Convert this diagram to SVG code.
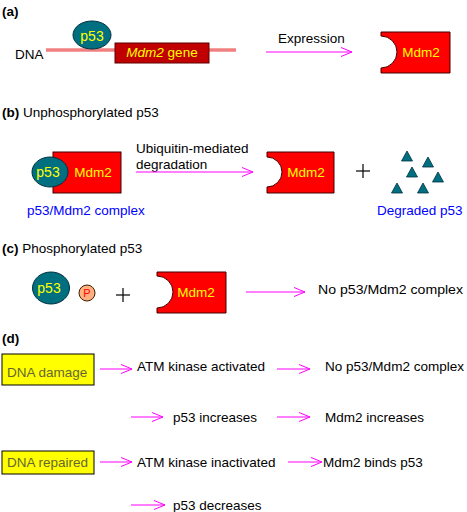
<svg xmlns="http://www.w3.org/2000/svg" width="467" height="512" viewBox="0 0 467 512">
<defs>
<marker id="ah" markerWidth="12" markerHeight="10" refX="11" refY="5" orient="auto" markerUnits="userSpaceOnUse">
<path d="M0,0.5 L11,5 L0,9.5" fill="none" stroke="#ff00ff" stroke-width="1"/>
</marker>
</defs>
<style>
text{font-family:"Liberation Sans",Arial,sans-serif;font-size:13.5px;fill:#000}
.lbl{font-weight:bold}
.yel{fill:#ffff00}
.ctr{text-anchor:middle}
.blue{fill:#0000ff}
.mdm{fill:#ff0000;stroke:#400000;stroke-width:1}
.p53{fill:#007080;stroke:#003040;stroke-width:1}
.tri{fill:#007080;stroke:#003040;stroke-width:0.8}
.arr{stroke:#ff00ff;stroke-width:1;fill:none;marker-end:url(#ah)}
.box{fill:#ffff00;stroke:#000;stroke-width:1}
.boxt{fill:#666633}
.plus{stroke:#000;stroke-width:1.2}
.ptxt{font-size:11px;fill:#ff0000}
</style>

<g id="panel-a">
<text class="lbl" x="2" y="16">(a)</text>
<g id="dna">
<line x1="46" y1="50" x2="236" y2="50" stroke="#f08080" stroke-width="3.5"/>
<text x="15" y="59">DNA</text>
</g>
<g id="mdm2-gene">
<rect x="115" y="43" width="94" height="20" fill="#c00000" stroke="#600000" stroke-width="1"/>
<text x="162" y="57" class="yel ctr"><tspan font-style="italic">Mdm2</tspan> gene</text>
</g>
<g id="p53-a">
<ellipse class="p53" cx="92" cy="35" rx="19" ry="14"/>
<text x="92" y="41" class="yel ctr" style="font-size:14px">p53</text>
</g>
<text x="278" y="43">Expression</text>
<g id="mdm2-a">
<path class="mdm" d="M381,32 H450 V73 H381 V68 A16,16 0 0 0 381,36 Z"/>
<text x="421" y="57" class="yel ctr">Mdm2</text>
</g>
</g>

<g id="panel-b">
<text x="2" y="117"><tspan class="lbl">(b)</tspan> Unphosphorylated p53</text>
<g id="complex">
<rect class="mdm" x="53" y="152" width="68" height="41"/>
<ellipse class="p53" cx="50" cy="172" rx="18" ry="15"/>
<text x="48" y="177" class="yel ctr" style="font-size:14px">p53</text>
<text x="93" y="177" class="yel ctr">Mdm2</text>
<text x="27" y="215" class="blue">p53/Mdm2 complex</text>
</g>
<text x="136" y="153">Ubiquitin-mediated</text>
<text x="136" y="169">degradation</text>
<g id="mdm2-b">
<path class="mdm" d="M267,152 H334 V193 H267 V187 A15,15 0 0 0 267,157 Z"/>
<text x="306" y="177" class="yel ctr">Mdm2</text>
</g>
<g id="plus-b">
<line class="plus" x1="356" y1="171" x2="370" y2="171"/>
<line class="plus" x1="363" y1="164" x2="363" y2="178"/>
</g>
<g id="degraded-p53">
<polygon class="tri" points="407,151 412.5,161 401.5,161"/>
<polygon class="tri" points="428,157 433.5,167 422.5,167"/>
<polygon class="tri" points="412,167 417.5,177 406.5,177"/>
<polygon class="tri" points="438,172 443.5,182 432.5,182"/>
<polygon class="tri" points="397,183 402.5,193 391.5,193"/>
<polygon class="tri" points="423,183 428.5,193 417.5,193"/>
<text x="377" y="215" class="blue">Degraded p53</text>
</g>
</g>

<g id="panel-c">
<text x="2" y="253"><tspan class="lbl">(c)</tspan> Phosphorylated p53</text>
<g id="p53-c">
<ellipse class="p53" cx="51" cy="288" rx="18.5" ry="16"/>
<text x="49" y="293" class="yel ctr" style="font-size:14px">p53</text>
</g>
<g id="phospho">
<circle cx="87" cy="293" r="8" fill="#ffb080" stroke="#402000" stroke-width="1"/>
<text x="87" y="297" class="ctr ptxt">P</text>
</g>
<g id="plus-c">
<line class="plus" x1="116" y1="295" x2="130" y2="295"/>
<line class="plus" x1="123" y1="288" x2="123" y2="302"/>
</g>
<g id="mdm2-c">
<path class="mdm" d="M157,272 H226 V313 H157 V308 A16,16 0 0 0 157,276 Z"/>
<text x="196" y="297" class="yel ctr">Mdm2</text>
</g>
<text x="318" y="294" textLength="145" lengthAdjust="spacingAndGlyphs">No  p53/Mdm2 complex</text>
</g>

<g id="panel-d">
<text class="lbl" x="2" y="343">(d)</text>
<g id="dna-damage">
<rect class="box" x="2" y="354" width="92" height="31"/>
<text x="7" y="377" class="boxt">DNA damage</text>
</g>
<text x="137" y="371">ATM kinase activated</text>
<text x="325" y="371" textLength="139" lengthAdjust="spacingAndGlyphs">No p53/Mdm2 complex</text>
<text x="173" y="422">p53 increases</text>
<text x="325" y="422">Mdm2 increases</text>
<g id="dna-repaired">
<rect class="box" x="2" y="451" width="92" height="23"/>
<text x="7" y="467" class="boxt">DNA repaired</text>
</g>
<text x="137" y="467">ATM kinase inactivated</text>
<text x="323" y="467">Mdm2 binds p53</text>
<text x="173" y="510">p53 decreases</text>
</g>

<g id="connectors">
<line class="arr" x1="266" y1="52" x2="352" y2="52"/>
<line class="arr" x1="136" y1="172" x2="253" y2="172"/>
<line class="arr" x1="246" y1="292" x2="305" y2="292"/>
<line class="arr" x1="100" y1="369" x2="132" y2="369"/>
<line class="arr" x1="277" y1="369" x2="310" y2="369"/>
<line class="arr" x1="131" y1="417" x2="163" y2="417"/>
<line class="arr" x1="277" y1="417" x2="310" y2="417"/>
<line class="arr" x1="100" y1="462" x2="132" y2="462"/>
<line class="arr" x1="288" y1="462" x2="322" y2="462"/>
<line class="arr" x1="131" y1="505" x2="165" y2="505"/>
</g>
</svg>
